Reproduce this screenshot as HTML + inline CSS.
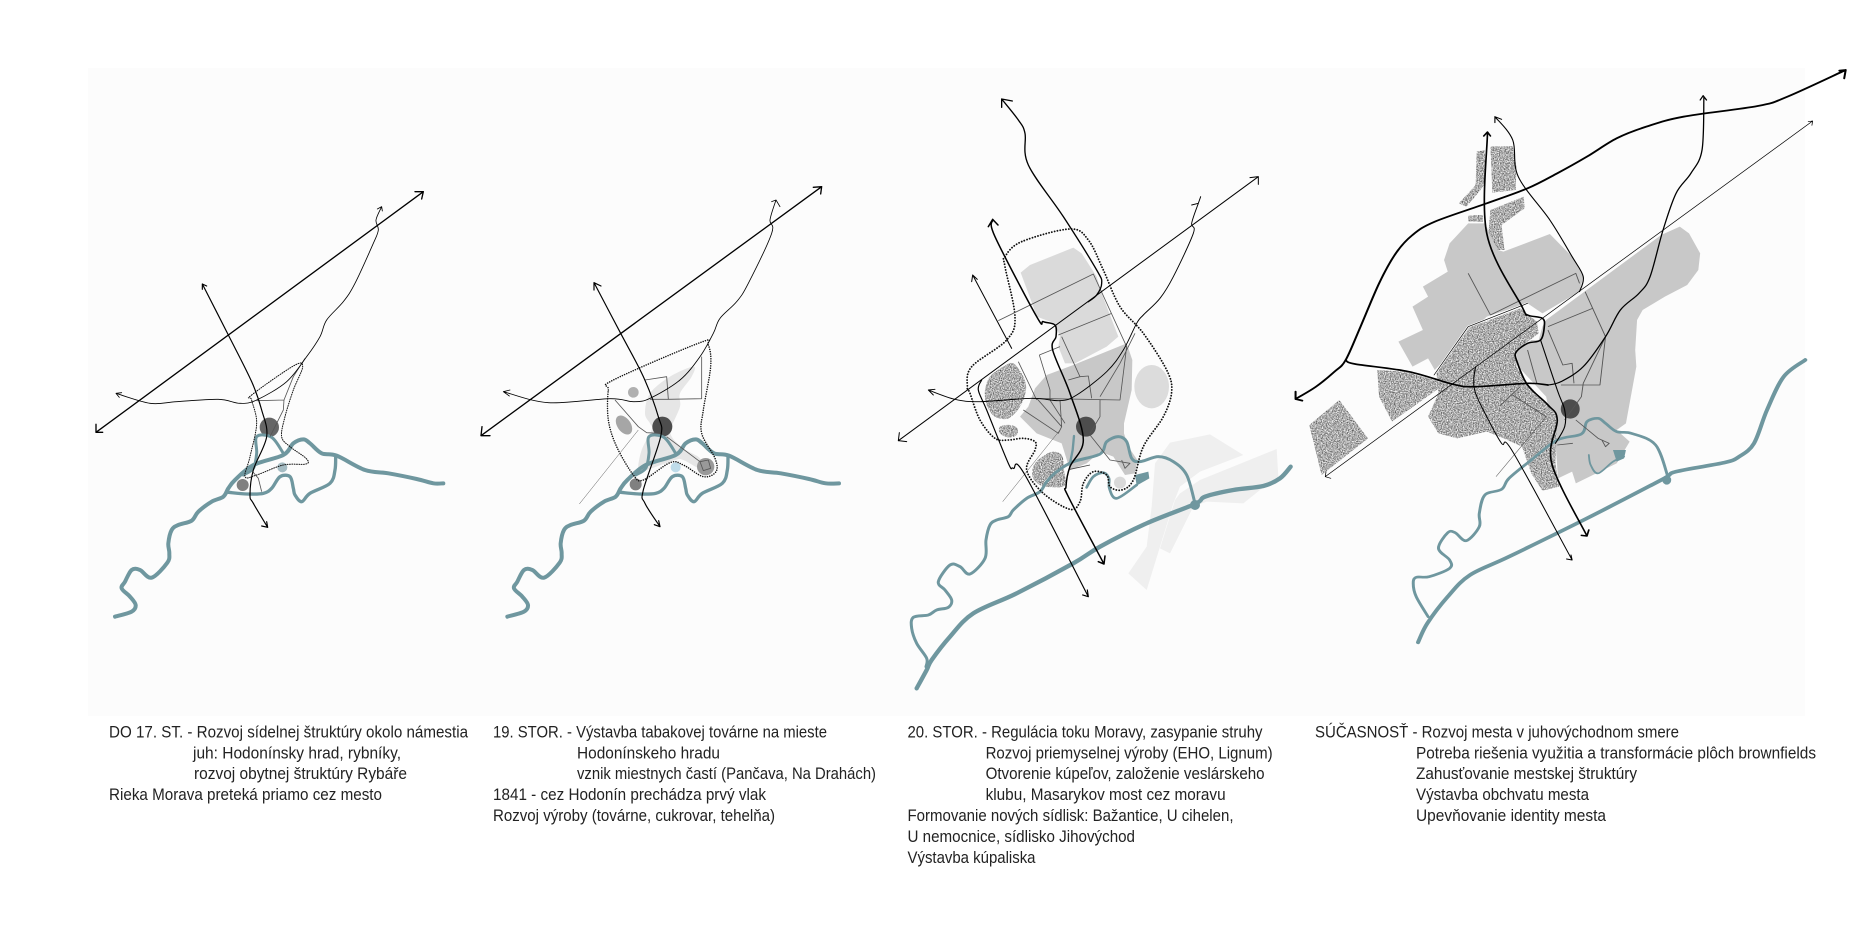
<!DOCTYPE html>
<html><head><meta charset="utf-8"><style>
html,body{margin:0;padding:0;background:#fff}
svg{display:block}
text{font-family:"Liberation Sans",sans-serif;font-size:17px;fill:#222}
.r{fill:none;stroke:#6f979f;stroke-linejoin:round;stroke-linecap:round}
.b{fill:none;stroke:#000;stroke-linejoin:round;stroke-linecap:round}
.t{fill:none;stroke:#555;stroke-linejoin:round}
.d{fill:none;stroke:#111;stroke-linecap:round;stroke-linejoin:round}
</style></head><body>
<svg width="1872" height="933" viewBox="0 0 1872 933" xmlns="http://www.w3.org/2000/svg">
<defs>
<filter id="sp" x="0" y="0" width="1" height="1" color-interpolation-filters="sRGB">
<feTurbulence type="fractalNoise" baseFrequency=".3" numOctaves="2" seed="3"/>
<feColorMatrix values="1.25 0 0 0 .05 1.25 0 0 0 .05 1.25 0 0 0 .05 0 0 0 0 1"/>
<feComposite in2="SourceGraphic" operator="in"/>
</filter>
</defs>
<rect width="1872" height="933" fill="#fff"/>
<rect x="88" y="68" width="1717" height="648" fill="#fcfcfc"/>

<!-- PANEL 1 -->
<g transform="translate(80,160) scale(.33333)">
<circle cx="568" cy="802" r="29" fill="#666"/>
<circle cx="488" cy="975" r="18" fill="#808080"/>
<circle cx="607" cy="922" r="15" fill="#a5bcc3"/>
<path class="r" stroke-width="12" d="M105 1370L155 1355L167 1335L150 1310L125 1285L135 1265L155 1230L180 1230L215 1253L262 1208L268 1180L265 1150L275 1110L295 1095L335 1082L355 1055L395 1025L430 1010L445 985L465 960L520 915L610 885L640 850L670 838L690 850L725 880L770 887L855 930L925 940L1010 957L1060 970L1090 970"/>
<path class="r" stroke-width="10" d="M445 997L500 1002L550 1000L575 985L600 950L630 950L640 985L645 1005L665 1025L690 1000L750 970L765 930L767 887"/>
<path class="r" stroke-width="9" d="M490 945L520 925L530 880L530 830L575 832L610 880"/>
<path class="d" stroke-width="3" stroke-dasharray="2.5 4.5" d="M515 705L640 618L668 620L640 690L615 770L605 830L630 860L678 895L678 912L610 915L530 945L495 950L510 890L530 790L515 720Z"/>
<path class="t" stroke-width="2.5" d="M530 722L612 720L640 650L675 595M612 720L610 750L570 830M518 935L535 955L545 995"/>
<path class="b" stroke-width="4" d="M48 817L1030 95M1005 95L1030 95L1025 117M48 793L48 817L68 817"/>
<path class="b" stroke-width="3.5" d="M367 372L445 525L515 665L545 750L560 830L520 930L510 1005L520 1030L563 1102M380 378L367 372L367 388M545 1098L563 1102L560 1085"/>
<path class="b" stroke-width="2.5" d="M108 700L210 730L290 725L415 718L480 730L530 720L620 665L680 590L720 530L740 480L790 425L825 370L880 250L895 210L888 180L905 140M125 698L108 700L118 712M892 147L905 140L907 153"/>
</g>

<!-- PANEL 2 -->
<g transform="translate(470,160) scale(.33333)">
<path class="sm" fill="#e6e6e6" d="M525 760L540 700L600 650L670 620L665 650L630 700L630 740L605 800L605 830L640 865L690 895L690 925L640 900L615 900L530 930L505 930L515 870L545 810L540 790Z"/>
<circle cx="577" cy="800" r="30" fill="#4d4d4d"/>
<circle cx="497" cy="973" r="18" fill="#808080"/>
<circle cx="707" cy="920" r="26" fill="#999"/>
<circle cx="490" cy="697" r="16" fill="#b0b0b0"/>
<ellipse cx="462" cy="795" rx="20" ry="32" transform="rotate(-35 462 795)" fill="#a6a6a6"/>
<circle cx="617" cy="922" r="15" fill="#bfdcea"/>
<g transform="translate(7,0)">
<path class="r" stroke-width="12" d="M105 1370L155 1355L167 1335L150 1310L125 1285L135 1265L155 1230L180 1230L215 1253L262 1208L268 1180L265 1150L275 1110L295 1095L335 1082L355 1055L395 1025L430 1010L445 985L465 960L520 915L610 885L640 850L670 838L690 850L725 880L770 887L855 930L925 940L1010 957L1060 970L1100 970"/>
<path class="r" stroke-width="10" d="M445 997L500 1002L550 1000L575 985L600 950L630 950L640 985L645 1005L665 1025L690 1000L750 970L765 930L767 887"/>
<path class="r" stroke-width="9" d="M490 945L520 925L530 880L530 830L575 832L610 880"/>
</g>
<path class="d" stroke-width="4.5" stroke-dasharray=".1 7" d="M415 690L430 660L690 548L715 555L722 620L700 750L695 820L735 895L738 935L700 950L640 915L600 908L520 960L490 945L440 860L415 780Z"/>
<path class="t" stroke-width="2.5" d="M525 660L590 650L595 718L695 716L695 590M595 718L540 718M435 720L505 800L530 818L570 820M590 830L690 905L715 900L722 925L700 932L690 905"/>
<path class="t" stroke-width="1.5" d="M505 810L328 1032"/>
<path class="b" stroke-width="4" d="M33 827L1055 80M1030 82L1055 80L1052 102M36 800L33 827L60 827"/>
<path class="b" stroke-width="3.5" d="M372 368L452 520L520 650L565 770L572 830L520 990L525 1030L570 1100M393 378L372 368L372 390M553 1094L570 1100L566 1082"/>
<path class="b" stroke-width="2.5" d="M100 695L235 728L420 716L490 725L540 715L630 660L690 590L730 520L750 475L800 425L835 370L905 220L900 180L918 120M120 690L100 695L118 708M905 125L918 120L930 140"/>
</g>

<!-- PANEL 3 -->
<g transform="translate(880,80) scale(.33333)">
<path fill="#efefef" d="M870 1088L990 1063L1090 1125L960 1175L900 1220L880 1270L800 1530L745 1480L800 1400L815 1280L825 1150Z"/>
<path fill="#efefef" d="M1190 1107L1195 1190L1140 1230L1090 1270L980 1265L940 1280L870 1420L840 1405L885 1260L900 1240L960 1200Z"/>
<path fill="#dadada" d="M422 578L450 555L580 503L605 520L650 590L665 640L715 770L680 800L585 850L555 850L535 800L540 770L525 730L470 710L460 680Z"/>
<path fill="#c8c8c8" d="M465 925L500 885L580 855L740 790L757 840L755 930L732 1030L732 1060L745 1100L772 1140L765 1180L735 1185L700 1130L660 1115L620 1150L570 1170L545 1090L470 1060L420 1010L445 980Z"/>
<ellipse cx="815" cy="920" rx="52" ry="65" fill="#dcdcdc"/>
<circle cx="720" cy="1208" r="18" fill="#d9d9d9"/>
<g fill="#999" filter="url(#sp)">
<path class="sm" d="M400 850L430 890L438 930L420 980L385 1015L345 1010L320 975L315 930L330 890L370 860Z"/>
<path class="sm" d="M360 1040L390 1035L412 1045L410 1065L385 1072L360 1060Z"/>
<path class="sm" d="M510 1117L545 1125L552 1170L555 1215L520 1222L480 1215L458 1190L465 1150Z"/>
</g>
<circle cx="618" cy="1040" r="30" fill="#4d4d4d"/>
<path class="r" stroke-width="9" d="M138 1760L140 1735L110 1690L95 1645L100 1612L145 1605L170 1590L205 1582L215 1560L195 1530L175 1505L210 1455L240 1460L270 1482L315 1435L318 1380L330 1335L350 1320L385 1310L400 1290L440 1255L480 1235L500 1205L530 1175L580 1145L660 1122L680 1085L715 1070L740 1085L755 1135L780 1145L835 1130L880 1145L920 1185L945 1270"/>
<path class="r" stroke-width="13" d="M110 1825L140 1770L155 1740L210 1670L280 1600L410 1540L580 1450L660 1400L800 1330L945 1272L975 1250L1060 1230L1150 1218L1200 1195L1232 1160"/>
<circle cx="945" cy="1275" r="15" fill="#6f979f"/>
<path class="r" stroke-width="8" d="M620 1222L640 1190L670 1178L687 1195L688 1225L710 1255L770 1215"/>
<path fill="#6f979f" d="M765 1185L805 1175L808 1195L770 1217Z"/>
<path class="r" stroke-width="7" d="M582 1068L578 1110L570 1150"/>
<path class="d" stroke-width="5.5" stroke-dasharray=".1 8.5" d="M375 530L425 485L570 447L625 480L670 570L720 680L790 760L860 870L875 935L850 1010L790 1100L760 1200L725 1230L690 1220L680 1185L640 1175L610 1210L600 1265L570 1288L490 1240L440 1170L465 1110L465 1085L430 1075L385 1080L345 1075L300 1020L270 940L262 920L275 860L380 780L405 710L375 560Z"/>
<path class="t" stroke-width="2.5" d="M355 722L640 582L740 800L720 960L455 955M535 765L695 700M545 770L600 890L625 888L635 955M600 890L565 900M478 825L540 800M478 825L510 930L510 960M415 845L470 960M430 990L535 1060L545 1040L470 955M510 960L555 1030M540 960L545 1040M630 1065L690 1140L750 1150L735 1165L725 1140M660 960L660 1010L630 1060M765 760L720 850L660 950"/>
<path class="t" stroke-width="1.5" d="M540 1050L368 1265"/>
<path d="M380 1030L450 965" stroke="#fff" stroke-width="2.5" fill="none"/>
<path d="M570 1168L630 1155" stroke="#444" stroke-width="2.5" fill="none"/>
<path class="b" stroke-width="3" d="M55 1082L1135 290M1110 293L1135 290L1135 313M58 1058L55 1082L80 1085"/>
<path class="b" stroke-width="4" d="M365 57L415 120L435 160L445 255L550 410L650 570L665 610L650 645L625 665M365 82L365 57L397 63"/>
<path class="b" stroke-width="4.5" d="M338 420L345 470L470 710L490 725L525 735L528 770L518 810L570 940L610 1080L570 1160L558 1220L565 1250L672 1452M325 440L338 418L354 435M655 1445L672 1452L675 1428"/>
<path class="b" stroke-width="3" d="M278 585L395 805M275 605L278 585L292 598"/>
<path class="b" stroke-width="3.5" d="M305 900L295 930L320 990L385 1150L400 1165L435 1185L625 1550M608 1545L625 1550L622 1530"/>
<path class="b" stroke-width="2.8" d="M145 930L225 958L300 965L455 955L540 962L590 945L680 875L730 810L770 730L790 705L840 655L880 590L940 460L935 430L955 370M165 928L145 930L160 945M935 375L955 370L962 350"/>
</g>

<!-- PANEL 4 -->
<g transform="translate(1290,50) scale(.3712,.33333)">
<path fill="#c8c8c8" d="M575 605L700 552L760 620L790 680L780 725L680 790L640 760L530 800L390 960L372 925L330 950L292 875L358 840L330 770L372 740L358 710L425 665L415 630L430 580L480 520L525 520L560 600Z"/>
<path fill="#c8c8c8" d="M690 810L1000 555L1050 530L1075 550L1105 610L1100 660L1070 705L1010 740L950 780L935 810L930 900L933 950L905 1120L880 1140L915 1175L880 1240L770 1300L760 1265L722 1285L715 1170L690 1040L615 950L610 905L650 870L670 870L680 830Z"/>
<g fill="#999" filter="url(#sp)">
<path d="M620 775L665 815L670 850L610 900L610 950L640 1000L720 1100L715 1240L725 1310L680 1322L650 1270L625 1190L565 1160L530 1145L450 1165L400 1150L372 1100L400 1030L395 970L440 890L490 830Z"/>
<path d="M235 960L310 965L420 1000L275 1115L240 1040Z"/>
<path d="M133 1050L210 1165L85 1275L52 1125Z"/>
<path d="M503 305L525 300L525 400L510 425L475 470L455 460L500 405Z"/>
<path d="M540 290L600 288L610 350L608 420L545 428Z"/>
<path d="M540 480L630 440L632 475L570 525L578 600L560 600L535 545Z"/>
<path d="M480 497L520 495L520 515L480 515Z"/>
</g>
<ellipse cx="755" cy="1077" rx="25.5" ry="29" fill="#4d4d4d"/>
<path class="r" stroke-width="11" d="M345 1777L370 1720L425 1640L485 1575L590 1520L800 1405L1000 1290L1040 1265L1170 1238L1210 1220L1250 1180L1285 1080L1330 980L1388 930"/>
<path class="r" stroke-width="8" d="M372 1700L340 1640L332 1600L340 1582L375 1580L430 1555L430 1530L400 1495L425 1448L445 1448L475 1472L510 1430L510 1390L525 1335L570 1318L590 1285L650 1230L720 1170L785 1152L800 1115L830 1105L850 1120L880 1145L920 1150L985 1185L1018 1280"/>
<ellipse cx="1015" cy="1290" rx="12" ry="14" fill="#6f979f"/>
<path class="r" stroke-width="5" d="M805 1215L810 1245L830 1270L870 1235L900 1220"/>
<path fill="#6f979f" d="M870 1200L905 1200L900 1225L880 1235Z"/>
<path class="t" stroke-width="2.5" stroke="#333" d="M480 670L540 795M540 795L770 670L780 700M795 725L850 860L835 1005L730 1005M695 830L815 775M695 840L735 945L760 940L765 1000M640 900L665 1000M565 1068L620 1010M600 1035L690 1100M770 1110L830 1165L860 1180L850 1190L840 1170M720 1185L762 1180M850 860L790 1000L785 1040L740 1110"/>
<path class="t" stroke-width="1.5" d="M690 1100L555 1280"/>
<path d="M388 975L480 830L640 760" fill="none" stroke="#fff" stroke-width="6"/>
<path class="b" stroke-width="2" d="M388 975L480 830L640 760"/>
<path class="b" stroke-width="5.5" d="M15 1047L70 1010L120 965L150 930L190 830L240 700L285 610L330 555L390 515L530 460L640 415L720 370L800 320L880 265L960 230L1060 200L1260 168L1340 140L1497 60M1480 62L1497 60L1493 85M15 1025L15 1047L33 1052"/>
<path class="b" stroke-width="5" d="M150 930L175 942L320 965L440 1003L500 1010L640 1000L695 1005"/>
<path class="b" stroke-width="3.5" d="M695 1005L730 995L790 950L850 860L890 780L940 730L970 680L1005 540L1040 430L1080 370L1110 300L1115 140M1105 150L1113 137L1122 150"/>
<path class="b" stroke-width="4.5" d="M532 248L530 550L625 770L640 795L680 805L685 830L675 870L640 880L610 905L610 930L640 1005L695 1065L720 1110L705 1240L800 1458M522 258L532 246L540 258M785 1456L800 1458L805 1440"/>
<path class="b" stroke-width="3" d="M552 200L600 270L615 380L700 510L760 620L790 680L780 725M552 218L552 200L570 208"/>
<path class="b" stroke-width="3" d="M675 870L720 1020L740 1080L740 1130L715 1180"/>
<path class="b" stroke-width="2" d="M95 1280L1408 213M1396 215L1408 213L1406 226M97 1265L95 1280L110 1285"/>
<path class="b" stroke-width="2.8" d="M500 950L495 990L500 1030L530 1100L570 1180L600 1205L760 1530M745 1527L760 1530L757 1515"/>
</g>

<!-- TEXT -->
<g>
<text x="109" y="737.4" textLength="359" lengthAdjust="spacingAndGlyphs">DO 17. ST. - Rozvoj sídelnej štruktúry okolo námestia</text>
<text x="193" y="758.3" textLength="208" lengthAdjust="spacingAndGlyphs">juh: Hodonínsky hrad, rybníky,</text>
<text x="194" y="779.2" textLength="213" lengthAdjust="spacingAndGlyphs">rozvoj obytnej štruktúry Rybáře</text>
<text x="109" y="800.1" textLength="273" lengthAdjust="spacingAndGlyphs">Rieka Morava preteká priamo cez mesto</text>

<text x="493" y="737.4" textLength="334" lengthAdjust="spacingAndGlyphs">19. STOR. - Výstavba tabakovej továrne na mieste</text>
<text x="577" y="758.3" textLength="143" lengthAdjust="spacingAndGlyphs">Hodonínskeho hradu</text>
<text x="577" y="779.2" textLength="299" lengthAdjust="spacingAndGlyphs">vznik miestnych častí (Pančava, Na Drahách)</text>
<text x="493" y="800.1" textLength="273" lengthAdjust="spacingAndGlyphs">1841 - cez Hodonín prechádza prvý vlak</text>
<text x="493" y="821" textLength="282" lengthAdjust="spacingAndGlyphs">Rozvoj výroby (továrne, cukrovar, tehelňa)</text>

<text x="907.5" y="737.4" textLength="355" lengthAdjust="spacingAndGlyphs">20. STOR. - Regulácia toku Moravy, zasypanie struhy</text>
<text x="985.6" y="758.3" textLength="287" lengthAdjust="spacingAndGlyphs">Rozvoj priemyselnej výroby (EHO, Lignum)</text>
<text x="985.6" y="779.2" textLength="279" lengthAdjust="spacingAndGlyphs">Otvorenie kúpeľov, založenie veslárskeho</text>
<text x="985.6" y="800.1" textLength="240" lengthAdjust="spacingAndGlyphs">klubu, Masarykov most cez moravu</text>
<text x="907.5" y="821" textLength="326" lengthAdjust="spacingAndGlyphs">Formovanie nových sídlisk: Bažantice, U cihelen,</text>
<text x="907.5" y="841.9" textLength="227.5" lengthAdjust="spacingAndGlyphs">U nemocnice, sídlisko Jihovýchod</text>
<text x="907.5" y="862.8" textLength="128" lengthAdjust="spacingAndGlyphs">Výstavba kúpaliska</text>

<text x="1315" y="737.4" textLength="364" lengthAdjust="spacingAndGlyphs">SÚČASNOSŤ - Rozvoj mesta v juhovýchodnom smere</text>
<text x="1416" y="758.3" textLength="400" lengthAdjust="spacingAndGlyphs">Potreba riešenia využitia a transformácie plôch brownfields</text>
<text x="1416" y="779.2" textLength="221" lengthAdjust="spacingAndGlyphs">Zahusťovanie mestskej štruktúry</text>
<text x="1416" y="800.1" textLength="173" lengthAdjust="spacingAndGlyphs">Výstavba obchvatu mesta</text>
<text x="1416" y="821" textLength="190" lengthAdjust="spacingAndGlyphs">Upevňovanie identity mesta</text>
</g>
</svg>
<script>
document.querySelectorAll('path.r,path.b,path.d,path.sm').forEach(function(el){
  var out='';
  (el.getAttribute('d').match(/M[^M]*/g)||[]).forEach(function(sub){
    var closed=/Z/i.test(sub),n=sub.match(/-?[\d.]+/g).map(Number),p=[];
    for(var i=0;i<n.length;i+=2)p.push([n[i],n[i+1]]);
    if(p.length<4){out+=sub;return;}
    var L=p.length,s='M'+p[0][0]+' '+p[0][1],c=closed?L:L-1;
    for(var j=0;j<c;j++){
      var a=closed?p[(j-1+L)%L]:(p[j-1]||p[j]),b=p[j],d=closed?p[(j+1)%L]:p[j+1],e=closed?p[(j+2)%L]:(p[j+2]||d);
      s+='C'+(b[0]+(d[0]-a[0])/6).toFixed(1)+' '+(b[1]+(d[1]-a[1])/6).toFixed(1)+' '+(d[0]-(e[0]-b[0])/6).toFixed(1)+' '+(d[1]-(e[1]-b[1])/6).toFixed(1)+' '+d[0]+' '+d[1];
    }
    out+=s+(closed?'Z':'');
  });
  el.setAttribute('d',out);
});
</script>
</body></html>
